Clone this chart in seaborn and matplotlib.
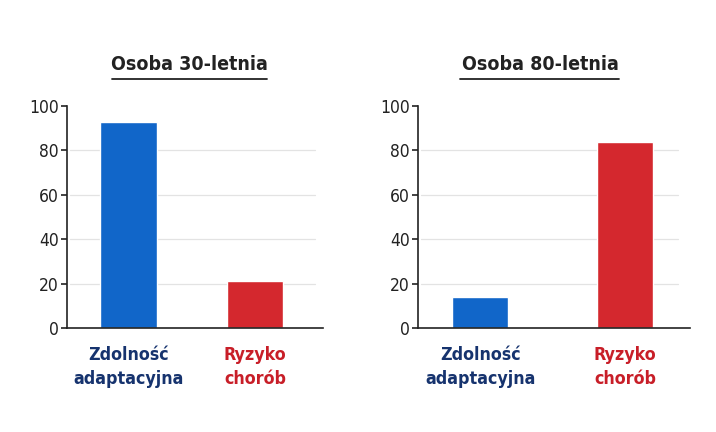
import matplotlib
matplotlib.use("Agg")
import matplotlib.pyplot as plt
import seaborn as sns
import pandas as pd

categories = ["Zdolność\nadaptacyjna", "Ryzyko\nchorób"]
values_30 = [93, 21]
values_80 = [14, 84]
titles = ["Osoba 30-letnia", "Osoba 80-letnia"]
yticks = [0, 20, 40, 60, 80, 100]

bar_colors = ["#1166C9", "#D4282E"]
label_colors = ["#16336E", "#C81E28"]

sns.set_theme(style="white")
plt.rcParams["font.family"] = ["DejaVu Sans"]
plt.rcParams["font.stretch"] = "condensed"

fig = plt.figure(figsize=(7.16, 4.32), dpi=100)
W, H = 716, 432
rects = [(67, 323), (418, 690)]
xlims = [(-0.49, 1.54), (-0.43, 1.45)]
widths = [0.45, 0.39]
grid_end = [0.97, 0.956]
title_x = [189, 540]
data = [values_30, values_80]

for i in range(2):
    l, r = rects[i]
    top, bot = 106, 328
    ax = fig.add_axes([l / W, 1 - bot / H, (r - l) / W, (bot - top) / H])
    df = pd.DataFrame({"cat": categories, "val": data[i]})
    sns.barplot(data=df, x="cat", y="val", hue="cat", palette=bar_colors,
                width=widths[i], ax=ax, legend=False, saturation=1)
    ax.set_ylim(0, 100)
    ax.set_xlim(*xlims[i])
    ax.set_yticks(yticks)
    ax.set_xlabel("")
    ax.set_ylabel("")
    for y in yticks[1:-1]:
        ax.axhline(y, xmin=0.01, xmax=grid_end[i], color="#e3e3e3", lw=0.9, zorder=0)
    for s in ["top", "right"]:
        ax.spines[s].set_visible(False)
    for s in ["left", "bottom"]:
        ax.spines[s].set_color("#222222")
        ax.spines[s].set_linewidth(1.2)
    ax.tick_params(axis="y", which="both", left=True, length=4.5, width=1.2,
                   color="#222222", labelsize=12.5, labelcolor="#222222", pad=1.5)
    ax.tick_params(axis="x", bottom=False, pad=7)
    ax.set_xticks([0, 1])
    ax.set_xticklabels(categories, fontsize=12.8, fontweight="bold",
                       fontstretch="condensed", linespacing=1.4)
    for t, c in zip(ax.get_xticklabels(), label_colors):
        t.set_color(c)
    for t in ax.get_yticklabels():
        t.set_fontstretch("condensed")
    fig.text(title_x[i] / W, 1 - 65 / H, titles[i], ha="center", va="center",
             fontsize=14, fontweight="bold", fontstretch="condensed", color="#222222")
    ulx = [(112, 267), (460, 619)][i]
    fig.add_artist(plt.Line2D([ulx[0] / W, ulx[1] / W], [1 - 79 / H, 1 - 79 / H],
                              color="#222222", lw=1.3, transform=fig.transFigure))

fig.savefig("out.png", dpi=100, facecolor="white")
